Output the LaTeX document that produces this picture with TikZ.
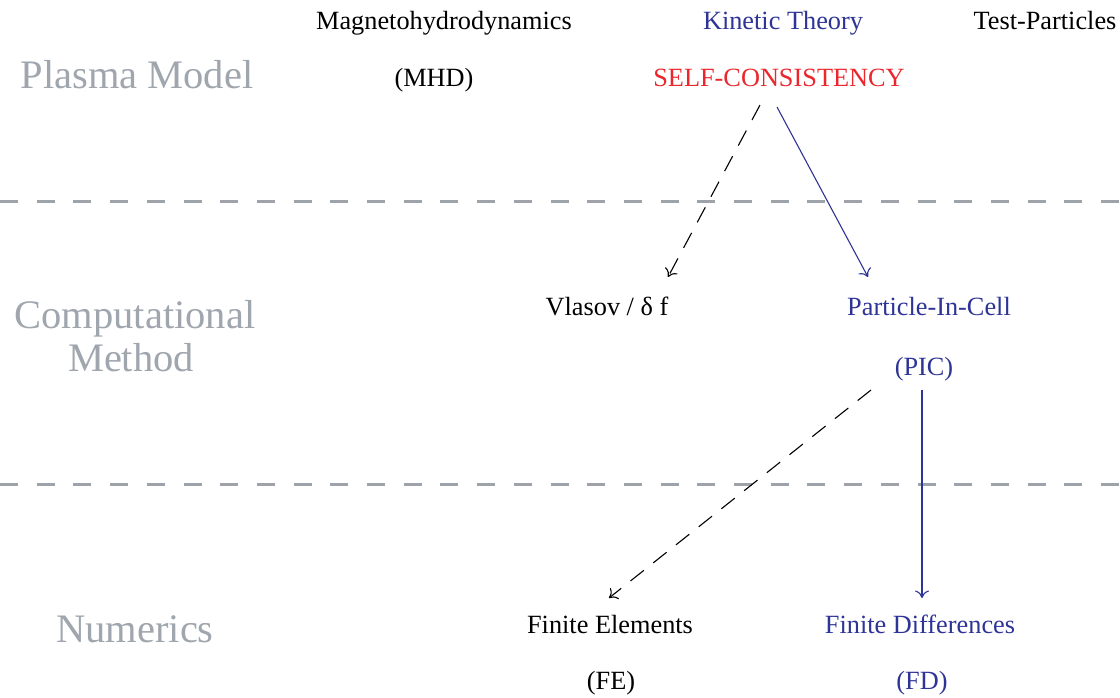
\documentclass[tikz,border=0pt]{standalone}
\usepackage{fontspec}
\setmainfont{Liberation Serif}
\usetikzlibrary{arrows.meta}
\definecolor{lblgray}{RGB}{160,166,174}
\definecolor{sepgray}{RGB}{158,163,170}
\definecolor{pblue}{RGB}{46,52,150}
\definecolor{pred}{RGB}{235,38,45}
\begin{document}
\begin{tikzpicture}[x=1pt,y=-1pt,
  lbl/.style={anchor=base,inner sep=0pt,text=lblgray,font=\fontsize{40.5}{44}\selectfont,align=center},
  txt/.style={anchor=base,inner sep=0pt,font=\fontsize{26.3}{30}\selectfont},
  sep/.style={draw=sepgray,line width=3pt,dash pattern=on 18pt off 18.7pt},
  arr/.style={line width=1.1pt,-{Computer Modern Rightarrow[length=7.5pt,width=14pt]}},
  darr/.style={arr,dash pattern=on 17pt off 12pt}]
\useasboundingbox (0,0) rectangle (1120,697);
% row labels
\node[lbl] (pm) at (137,88) {Plasma Model};
\node[lbl] (cm1) at (135,328) {Computational};
\node[lbl] (cm2) at (131,371) {Method};
\node[lbl] (nu) at (135,642) {Numerics};
% separators
\coordinate (s1a) at (0,201); \coordinate (s1b) at (1120,201);
\coordinate (s2a) at (0,484); \coordinate (s2b) at (1120,484);
\draw[sep] (s1a) -- (s1b);
\draw[sep] (s2a) -- (s2b);
% top row
\node[txt] (mhd) at (444,29) {Magnetohydrodynamics};
\node[txt,text=pblue] (kt) at (783,29) {Kinetic Theory};
\node[txt] (tp) at (1045,29) {Test-Particles};
\node[txt] (mhd2) at (434,86) {(MHD)};
\node[txt,text=pred] (sc) at (779,86) {SELF-CONSISTENCY};
% middle row
\node[txt] (vl) at (607,315) {Vlasov / δ f};
\node[txt,text=pblue] (pic) at (929,315) {Particle-In-Cell};
\node[txt,text=pblue] (pic2) at (924,375) {(PIC)};
% bottom row
\node[txt] (fe) at (610,633) {Finite Elements};
\node[txt,text=pblue] (fd) at (920,633) {Finite Differences};
\node[txt] (fe2) at (611,689) {(FE)};
\node[txt,text=pblue] (fd2) at (922,689) {(FD)};
% arrows
\coordinate (a1s) at (760,105); \coordinate (a1e) at (668,277);
\coordinate (a2s) at (777,107); \coordinate (a2e) at (868,277);
\coordinate (a3s) at (871,390); \coordinate (a3e) at (609,598);
\coordinate (a4s) at (922,390); \coordinate (a4e) at (922,598);
\draw[darr] (a1s) -- (a1e);
\draw[arr,draw=pblue] (a2s) -- (a2e);
\draw[darr] (a3s) -- (a3e);
\draw[arr,draw=pblue] (a4s) -- (a4e);
\end{tikzpicture}
\end{document}
